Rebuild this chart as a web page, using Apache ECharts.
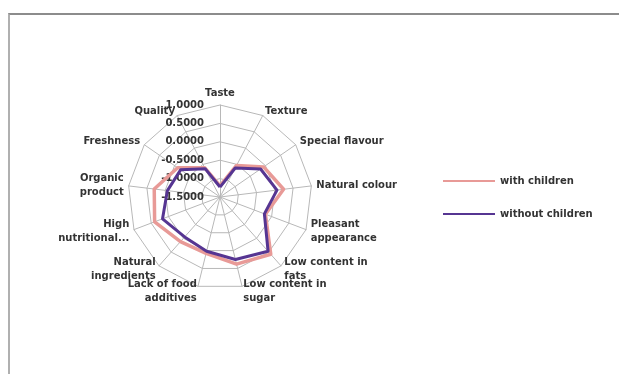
<!DOCTYPE html>
<html>
<head>
<meta charset="utf-8">
<script src="https://cdn.jsdelivr.net/npm/echarts@6/dist/echarts.min.js"></script>
<style>
  html, body { margin: 0; padding: 0; background: #fff; }
  #frame { position: absolute; left: 8px; top: 13px; right: 0; bottom: 0;
           border-top: 2px solid #8c8c8c; border-left: 2px solid #b0b0b0; }
  #main { position: absolute; left: 0; top: 0; width: 619px; height: 374px; }
</style>
</head>
<body>
<div id="frame"></div>
<div id="main"></div>
<script>
// categories round the radar, clockwise from the top
var categories = ['Taste', 'Texture', 'Special flavour', 'Natural colour', 'Pleasant\nappearance',
    'Low content in\nfats', 'Low content in\nsugar', 'Lack of food\nadditives', 'Natural\ningredients',
    'High\nnutritional...', 'Organic\nproduct', 'Freshness', 'Quality'];
var withChildren = [-1.20, -0.53, -0.06, 0.24, -0.18, 0.58, 0.38, 0.08, 0.12, 0.40, 0.30, -0.10, -0.60];
var withoutChildren = [-1.23, -0.61, -0.16, 0.06, -0.21, 0.47, 0.25, 0.02, -0.05, 0.17, -0.06, -0.20, -0.63];
var axisMin = -1.5, axisMax = 1.0;

// echarts walks the radar counter-clockwise, so keep the first and flip the rest
function clockwise(arr) {
    return [arr[0]].concat(arr.slice(1).reverse());
}

var textFont = { color: '#333', fontSize: 10, fontWeight: 'bold', fontFamily: 'DejaVu Sans' };

var chart = echarts.init(document.getElementById('main'));

var indicator = clockwise(categories).map(function (c, i) {
    var ind = { name: c, min: axisMin, max: axisMax };
    // only the first spoke carries value labels
    if (i === 0) {
        ind.axisLabel = {
            show: true, color: '#333', fontSize: 10, fontWeight: 'bold',
            fontFamily: 'DejaVu Sans', margin: 16,
            formatter: function (v) { return v.toFixed(4); }
        };
    }
    return ind;
});

chart.setOption({
    animation: false,
    legend: {
        orient: 'vertical',
        left: 443, top: 176,
        padding: 0,
        itemWidth: 52, itemHeight: 2, itemGap: 23,
        icon: 'rect',
        textStyle: textFont,
        data: ['with children', 'without children']
    },
    radar: {
        center: [220, 197],
        radius: 92,
        shape: 'polygon',
        splitNumber: 5,
        startAngle: 90,
        indicator: indicator,
        nameGap: 5,
        axisName: Object.assign({ lineHeight: 14 }, textFont),
        axisLine: { lineStyle: { color: '#b8b8b8', width: 1 } },
        splitLine: { lineStyle: { color: '#b8b8b8', width: 1 } },
        splitArea: { show: false },
        axisLabel: { show: false },
        axisTick: { show: false }
    },
    series: [{
        type: 'radar',
        symbol: 'none',
        data: [
            { name: 'with children', value: clockwise(withChildren),
              lineStyle: { color: '#e89a97', width: 3.5 }, itemStyle: { color: '#e89a97' } },
            { name: 'without children', value: clockwise(withoutChildren),
              lineStyle: { color: '#563592', width: 3 }, itemStyle: { color: '#563592' } }
        ]
    }]
});
</script>
</body>
</html>
